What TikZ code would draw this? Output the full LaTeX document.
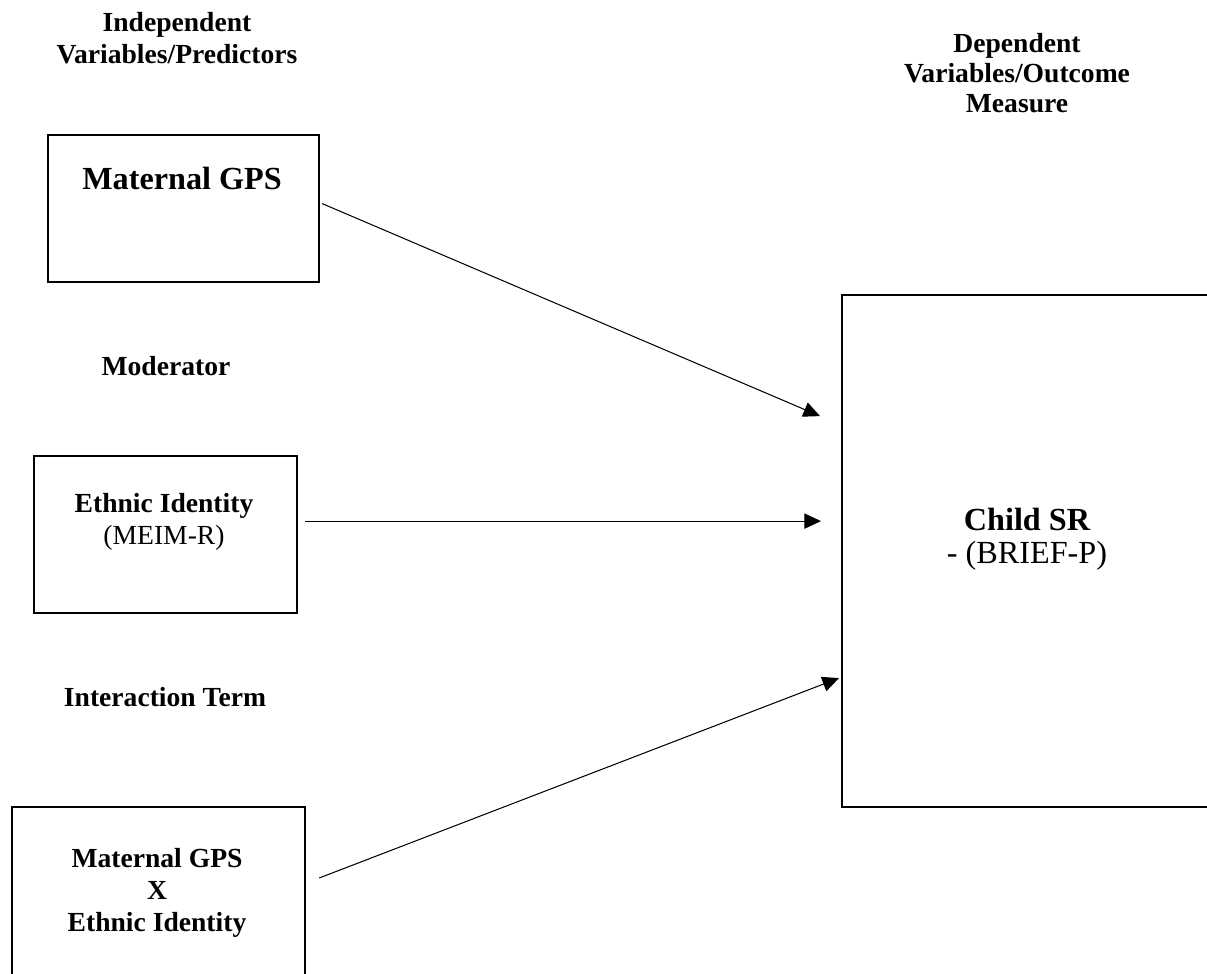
\documentclass[tikz,border=0pt]{standalone}
\usepackage{fontspec}
\setmainfont{Liberation Serif}
\usetikzlibrary{arrows.meta,calc}
\begin{document}
\begin{tikzpicture}[x=0.4348pt,y=-0.4348pt,
  box/.style={draw, line width=0.95pt, rectangle, inner sep=0pt, anchor=north west},
  hdr/.style={font=\fontsize{12}{13.8}\selectfont\bfseries, align=center, inner sep=0pt},
  big/.style={font=\fontsize{14}{16}\selectfont\bfseries, inner sep=0pt},
  arr/.style={line width=0.45pt, -{Triangle[length=7.2pt,width=6.6pt]}}]
\clip (0,0) rectangle (1207,973);
% column headings
\node[hdr] (hin) at (177,38) {Independent\\Variables/Predictors};
\node[hdr, font=\fontsize{12}{13}\selectfont\bfseries] (hout) at (1017,73) {Dependent\\Variables/Outcome\\Measure};
\node[hdr] (hmod) at (166,366) {Moderator};
\node[hdr] (hint) at (165,697) {Interaction Term};
% boxes
\node[box, minimum width=271*0.4348pt, minimum height=147*0.4348pt] (gps) at (47,134) {};
\node[box, minimum width=263*0.4348pt, minimum height=157*0.4348pt] (eth) at (33,455) {};
\node[box, minimum width=293*0.4348pt, minimum height=250*0.4348pt] (inter) at (11,806) {};
\node[box, minimum width=420*0.4348pt, minimum height=512*0.4348pt] (sr) at (841,294) {};
% box texts
\node[big, anchor=base] (tgps) at (182,189) {Maternal GPS};
\node[hdr] (teth) at (164,522) {Ethnic Identity\\\mdseries(MEIM-R)};
\node[hdr] (tint) at (157,893) {Maternal GPS\\X\\Ethnic Identity};
\node[font=\fontsize{14}{14.3}\selectfont, align=center, inner sep=0pt] (tsr) at (1027,539) {\bfseries Child SR\\- (BRIEF-P)};
% paths
\draw[arr] ($(gps.east)+(2,-5)$) -- ($(sr.west)+(-21,-135)$);
\draw[arr] ($(eth.east)+(7,-13.5)$) -- ($(sr.west)+(-20,-30)$);
\draw[arr] ($(inter.north east)+(13,72)$) -- ($(sr.west)+(-2,127)$);
\end{tikzpicture}
\end{document}
